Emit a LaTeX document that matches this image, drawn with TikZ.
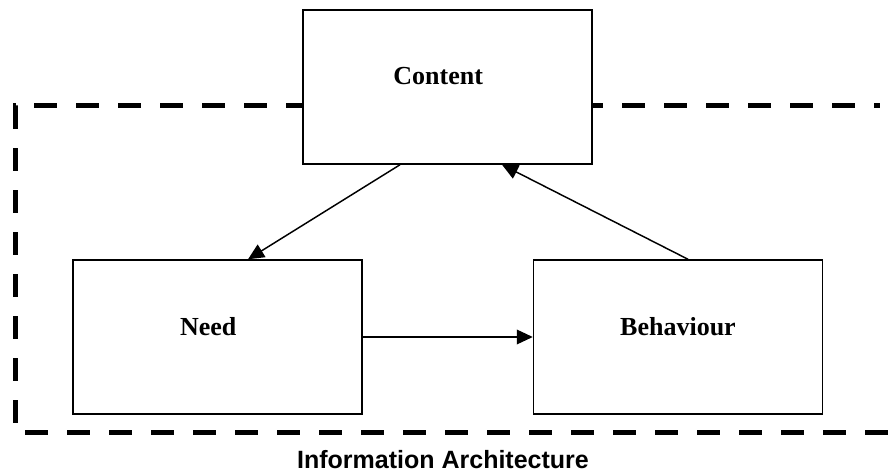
\documentclass[tikz,border=0pt]{standalone}
\usepackage{fontspec}
\setmainfont{Liberation Serif}
\setsansfont{Liberation Sans}
\usetikzlibrary{arrows.meta}
\begin{document}
\begin{tikzpicture}
	[x=0.75pt,y=-0.75pt,
	box/.style={rectangle,draw,fill=white,line width=1.1pt,minimum width=216.75pt,minimum height=115.5pt,
		font=\fontsize{19.5}{23}\selectfont\bfseries,text depth=16pt},
	frame/.style={line width=3.75pt,dash pattern=on 17.5pt off 14pt},
	arr/.style={line width=1.1pt,-{Triangle[length=12pt,width=11pt]}}]
	\useasboundingbox (0,0) rectangle (893,473);

	\draw[frame] (15,423) -- (15,106) -- (880,106);
	\draw[frame] (25,433) -- (890,433);

	\node[box] (content) at (447.5,87) {\hspace*{-14pt}Content};
	\node[box] (need) at (217.5,337) {\hspace*{-14pt}Need};
	\node[box] (behaviour) at (678,337) {Behaviour};
	\node[font=\fontsize{18.75}{22}\selectfont\sffamily\bfseries] (title) at (443,460) {Information Architecture};

	\draw[arr] ([xshift=-35.6pt]content.south) -- ([xshift=22.9pt]need.north);
	\draw[arr] ([xshift=7.5pt]behaviour.north) -- ([xshift=40.9pt]content.south);
	\draw[arr] (need.east) -- (behaviour.west);
\end{tikzpicture}
\end{document}
